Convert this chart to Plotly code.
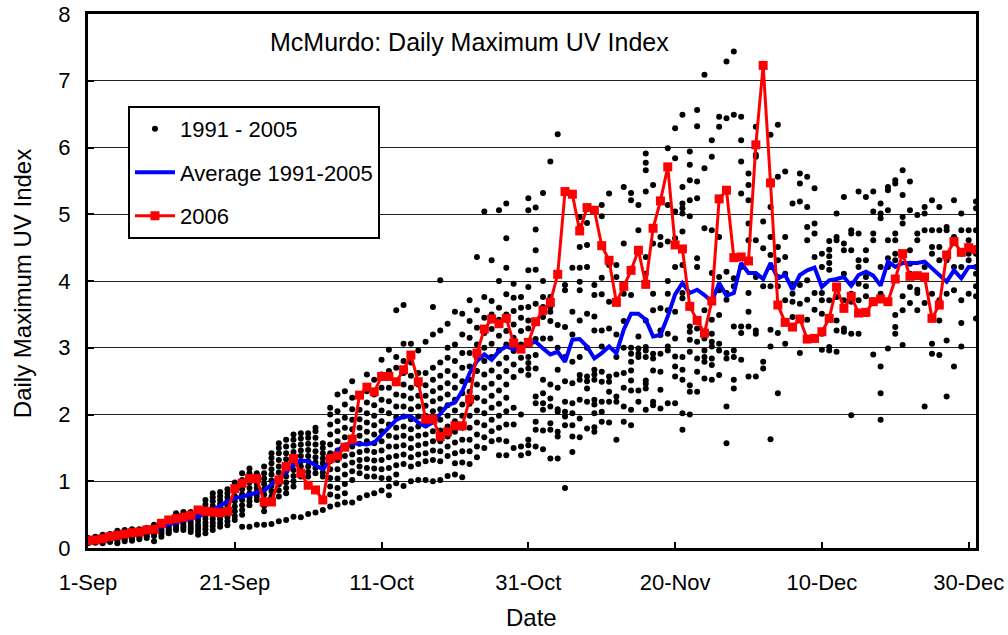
import pandas as pd
import plotly.graph_objects as go

# ---------------- data ----------------
start_date = "2006-09-01"
n_days = 122

uv_2006 = [0.11, 0.12, 0.14, 0.17, 0.19, 0.21, 0.23, 0.24, 0.27, 0.28,
           0.37, 0.42, 0.44, 0.46, 0.49, 0.57, 0.55, 0.54, 0.53, 0.55,
           0.89, 0.97, 1.04, 1.04, 0.69, 0.69, 1.02, 1.22, 1.34, 1.12,
           0.94, 0.87, 0.72, 1.34, 1.38, 1.51, 1.63, 2.29, 2.41, 2.34,
           2.57, 2.57, 2.49, 2.67, 2.89, 2.49, 1.93, 1.93, 1.67, 1.74,
           1.83, 1.83, 2.23, 2.92, 3.28, 3.43, 3.36, 3.44, 3.07, 2.98,
           3.08, 3.39, 3.56, 3.68, 4.10, 5.34, 5.30, 4.75, 5.10, 5.06,
           4.53, 4.31, 3.68, 3.92, 4.16, 4.46, 3.95, 4.79, 5.20, 5.71,
           4.54, 4.48, 3.62, 3.41, 3.22, 3.70, 5.23, 5.36, 4.35, 4.36,
           4.30, 6.04, 7.23, 5.47, 3.64, 3.38, 3.31, 3.43, 3.13, 3.14,
           3.24, 3.44, 3.91, 3.59, 3.77, 3.52, 3.53, 3.69, 3.73, 3.69,
           4.03, 4.41, 4.07, 4.08, 4.06, 3.44, 3.64, 4.39, 4.59, 4.43,
           4.50, 4.47]

uv_avg = [0.12, 0.13, 0.14, 0.16, 0.18, 0.20, 0.22, 0.24, 0.26, 0.28,
          0.32, 0.35, 0.38, 0.41, 0.44, 0.47, 0.52, 0.57, 0.63, 0.70,
          0.75, 0.77, 0.80, 0.82, 0.86, 0.95, 1.05, 1.15, 1.24, 1.31,
          1.30, 1.24, 1.18, 1.32, 1.46, 1.55, 1.57, 1.56, 1.55, 1.58,
          1.70, 1.82, 1.92, 1.97, 1.97, 1.88, 1.82, 1.88, 2.02, 2.14,
          2.18, 2.35, 2.62, 2.80, 2.90, 2.82, 2.95, 3.02, 2.98, 3.00,
          3.05, 3.09, 2.99, 2.90, 2.94, 2.79, 3.12, 3.13, 3.02, 2.84,
          2.92, 3.02, 2.92, 3.27, 3.51, 3.51, 3.42, 3.17, 3.19, 3.47,
          3.80, 3.97, 3.82, 3.87, 3.79, 3.69, 3.97, 3.78, 3.82, 4.27,
          4.12, 4.12, 4.03, 4.27, 4.04, 4.09, 3.87, 4.09, 4.16, 4.20,
          3.91, 4.01, 4.03, 4.06, 3.93, 4.09, 4.14, 4.08, 3.93, 4.29,
          4.21, 4.27, 4.27, 4.27, 4.29, 4.19, 4.10, 3.99, 4.16, 4.04,
          4.21, 4.21]

# 1991-2005 daily maxima, one list per day (Sep 1 ... Dec 31)
uv_hist = [
    [0.07, 0.09, 0.10, 0.12, 0.13, 0.14, 0.15],
    [0.08, 0.10, 0.12, 0.13, 0.15, 0.17],
    [0.07, 0.10, 0.12, 0.14, 0.16, 0.18, 0.20],
    [0.09, 0.12, 0.14, 0.16, 0.18, 0.21],
    [0.07, 0.11, 0.14, 0.17, 0.20, 0.23, 0.26],
    [0.10, 0.13, 0.16, 0.19, 0.22, 0.25, 0.27],
    [0.11, 0.14, 0.17, 0.20, 0.23, 0.26, 0.28],
    [0.13, 0.16, 0.19, 0.22, 0.25, 0.28],
    [0.15, 0.18, 0.21, 0.24, 0.27, 0.30],
    [0.10, 0.18, 0.22, 0.26, 0.30, 0.33, 0.35],
    [0.17, 0.21, 0.24, 0.27, 0.30, 0.34],
    [0.22, 0.25, 0.28, 0.32, 0.36, 0.39, 0.42],
    [0.27, 0.30, 0.34, 0.38, 0.42, 0.47, 0.52],
    [0.27, 0.31, 0.35, 0.39, 0.43, 0.48, 0.54],
    [0.24, 0.29, 0.33, 0.38, 0.43, 0.48, 0.54],
    [0.20, 0.25, 0.30, 0.35, 0.41, 0.46, 0.52, 0.57],
    [0.22, 0.28, 0.33, 0.38, 0.44, 0.50, 0.58, 0.65, 0.72],
    [0.27, 0.33, 0.38, 0.44, 0.50, 0.56, 0.63, 0.70, 0.76, 0.82],
    [0.32, 0.37, 0.43, 0.48, 0.54, 0.60, 0.66, 0.72, 0.78, 0.84],
    [0.34, 0.40, 0.46, 0.52, 0.58, 0.64, 0.70, 0.76, 0.82, 0.88],
    [0.42, 0.48, 0.55, 0.62, 0.70, 0.78, 0.86, 0.92, 0.98],
    [0.32, 0.50, 0.57, 0.64, 0.72, 0.80, 0.88, 0.95, 1.02, 1.12],
    [0.32, 0.64, 0.70, 0.76, 0.82, 0.90, 0.98, 1.06, 1.12, 1.19],
    [0.35, 0.72, 0.78, 0.84, 0.90, 0.96, 1.02, 1.07, 1.12],
    [0.35, 0.55, 0.63, 0.72, 0.80, 0.88, 0.96, 1.04, 1.12, 1.22],
    [0.36, 0.77, 0.85, 0.93, 1.01, 1.10, 1.18, 1.27, 1.35, 1.42],
    [0.40, 0.77, 0.86, 0.95, 1.04, 1.13, 1.22, 1.32, 1.42, 1.50, 1.57],
    [0.42, 0.82, 0.90, 0.98, 1.07, 1.15, 1.24, 1.33, 1.42, 1.52, 1.62],
    [0.47, 0.92, 1.00, 1.08, 1.17, 1.26, 1.35, 1.44, 1.53, 1.62, 1.70],
    [0.46, 1.07, 1.14, 1.22, 1.30, 1.38, 1.46, 1.55, 1.64, 1.72],
    [0.51, 1.07, 1.14, 1.22, 1.30, 1.38, 1.47, 1.56, 1.65, 1.72],
    [0.53, 1.12, 1.20, 1.28, 1.36, 1.45, 1.55, 1.65, 1.75, 1.80],
    [0.57, 1.07, 1.13, 1.20, 1.27, 1.34, 1.42, 1.50, 1.57],
    [0.62, 0.80, 0.92, 1.05, 1.18, 1.30, 1.42, 1.55, 1.70, 1.85, 2.00, 2.10],
    [0.65, 0.77, 0.90, 1.04, 1.18, 1.32, 1.46, 1.60, 1.75, 1.90, 2.05, 2.30],
    [0.68, 0.82, 0.96, 1.10, 1.24, 1.38, 1.52, 1.66, 1.80, 1.95, 2.15, 2.35],
    [0.68, 1.02, 1.15, 1.28, 1.40, 1.52, 1.65, 1.78, 1.92, 2.08, 2.25, 2.50],
    [0.75, 1.12, 1.22, 1.32, 1.44, 1.56, 1.68, 1.80, 1.93, 2.07],
    [0.79, 1.07, 1.20, 1.33, 1.46, 1.60, 1.74, 1.88, 2.02, 2.18, 2.35, 2.60],
    [0.82, 1.07, 1.19, 1.31, 1.44, 1.57, 1.70, 1.84, 1.98, 2.14, 2.30, 2.52],
    [0.86, 1.05, 1.18, 1.32, 1.46, 1.60, 1.75, 1.90, 2.06, 2.22, 2.40, 2.60, 2.82],
    [0.79, 0.92, 1.04, 1.20, 1.36, 1.52, 1.68, 1.85, 2.02, 2.20, 2.40, 2.65, 2.97],
    [0.97, 1.10, 1.24, 1.38, 1.52, 1.66, 1.80, 1.96, 2.12, 2.30, 2.50, 2.70, 2.86, 3.56],
    [0.93, 1.26, 1.40, 1.54, 1.68, 1.82, 1.97, 2.12, 2.28, 2.45, 2.62, 2.80, 3.06, 3.64],
    [1.00, 1.22, 1.36, 1.50, 1.64, 1.78, 1.93, 2.08, 2.24, 2.40, 2.58, 2.78, 3.06],
    [1.02, 1.26, 1.40, 1.54, 1.68, 1.82, 1.97, 2.12, 2.28, 2.45, 2.62, 2.96],
    [1.02, 1.30, 1.42, 1.56, 1.70, 1.84, 1.98, 2.13, 2.28, 2.44, 2.62, 3.09],
    [1.00, 1.32, 1.46, 1.60, 1.75, 1.90, 2.05, 2.20, 2.35, 2.52, 2.70, 3.20, 3.61],
    [1.02, 1.30, 1.45, 1.60, 1.76, 1.92, 2.08, 2.24, 2.40, 2.58, 2.78, 3.26, 4.01],
    [1.08, 1.38, 1.52, 1.67, 1.82, 1.98, 2.14, 2.30, 2.47, 2.65, 2.85, 3.00, 3.36],
    [1.10, 1.27, 1.42, 1.58, 1.74, 1.90, 2.06, 2.22, 2.40, 2.58, 2.80, 3.05, 3.54],
    [1.06, 1.28, 1.45, 1.62, 1.80, 1.98, 2.15, 2.32, 2.50, 2.70, 2.92, 3.20, 3.51],
    [1.26, 1.45, 1.62, 1.80, 1.98, 2.16, 2.34, 2.52, 2.72, 2.92, 3.15, 3.40, 3.71],
    [1.36, 1.52, 1.70, 1.88, 2.06, 2.25, 2.45, 2.65, 2.85, 3.05, 3.30, 3.56, 4.36],
    [1.50, 1.66, 1.84, 2.02, 2.20, 2.40, 2.60, 2.80, 3.00, 3.22, 3.45, 3.76, 5.04],
    [1.60, 1.75, 1.92, 2.10, 2.28, 2.46, 2.66, 2.86, 3.06, 3.28, 3.50, 3.70, 4.31],
    [1.39, 1.62, 1.80, 1.98, 2.16, 2.36, 2.56, 2.76, 2.96, 3.18, 3.42, 3.60, 4.00, 5.06],
    [1.39, 1.60, 1.85, 2.05, 2.25, 2.45, 2.65, 2.85, 3.05, 3.25, 3.50, 3.80, 4.20, 4.64, 5.16],
    [1.50, 1.85, 2.10, 2.56, 2.75, 2.95, 3.15, 3.35, 3.55, 3.75, 3.96],
    [1.39, 1.52, 2.00, 2.66, 2.85, 3.05, 3.25, 3.45, 3.60, 3.76],
    [1.42, 1.54, 1.62, 2.59, 2.69, 2.77, 2.86, 3.06, 3.29, 3.41, 3.61, 3.91, 4.16, 5.06, 5.24],
    [1.52, 1.77, 1.89, 2.17, 2.27, 2.69, 2.89, 3.13, 3.40, 3.66, 4.17, 4.46, 4.77, 5.10],
    [1.48, 1.76, 2.07, 2.17, 2.32, 2.52, 3.14, 3.46, 3.61, 3.76, 4.00, 5.32],
    [1.34, 1.77, 1.87, 2.12, 2.24, 2.45, 3.14, 3.40, 3.54, 3.61, 3.76, 5.79],
    [1.34, 1.67, 1.74, 2.04, 2.08, 2.40, 2.67, 3.00, 3.34, 6.20],
    [0.90, 1.84, 1.97, 2.04, 2.19, 2.50, 2.86, 3.31, 3.86, 3.94],
    [1.44, 1.67, 1.84, 2.02, 2.17, 2.47, 2.79, 3.20, 3.54, 4.20],
    [1.66, 1.94, 2.22, 2.52, 2.59, 2.86, 3.41, 3.86, 3.99, 4.20, 4.51, 4.82, 4.96],
    [1.79, 2.19, 2.39, 2.50, 2.57, 3.00, 3.51, 4.21, 4.54, 4.87],
    [1.74, 1.81, 2.02, 2.15, 2.22, 2.52, 2.60, 2.67, 3.26, 3.47, 3.79, 3.94],
    [1.89, 2.04, 2.19, 2.49, 2.64, 3.02, 3.26, 3.80, 4.05, 4.97, 5.14],
    [1.88, 2.19, 2.34, 2.49, 2.57, 3.29, 3.69, 4.24, 5.31],
    [1.62, 2.19, 2.27, 2.60, 2.86, 3.20, 3.69, 4.06, 4.24],
    [1.89, 2.12, 2.40, 2.62, 3.00, 3.40, 3.81, 3.91, 4.56, 5.41],
    [1.84, 2.07, 2.36, 2.51, 2.66, 2.79, 2.91, 3.00, 3.79, 5.21, 5.32],
    [2.19, 2.36, 2.86, 2.91, 2.99, 3.17, 4.76, 5.14],
    [2.07, 2.39, 2.46, 2.51, 2.86, 2.96, 3.01, 3.41, 4.11, 4.36, 5.34, 5.66, 5.77, 5.91],
    [2.14, 2.19, 2.66, 2.84, 2.91, 3.56, 3.81, 4.56, 5.44],
    [2.09, 2.37, 2.64, 2.91, 3.19, 3.26, 3.59, 4.54, 4.66, 5.21],
    [2.17, 2.96, 3.02, 3.21, 3.56, 3.81, 4.00, 4.59, 5.14, 5.99],
    [2.17, 2.57, 2.72, 2.87, 3.14, 3.54, 4.21, 4.64, 5.04, 5.84, 6.29],
    [1.77, 2.02, 2.52, 2.67, 2.86, 3.74, 3.82, 4.24, 4.74, 5.01, 5.09, 5.16, 5.41, 6.49],
    [2.00, 2.34, 2.44, 2.94, 3.12, 3.24, 3.32, 4.97, 5.21, 5.51, 5.74, 5.94],
    [2.34, 2.64, 2.84, 3.09, 3.29, 4.21, 4.34, 5.24, 5.49, 6.32, 6.56],
    [2.54, 2.79, 2.86, 2.96, 3.14, 3.56, 4.79, 5.69, 7.09],
    [2.52, 2.74, 2.84, 3.02, 3.09, 3.21, 3.42, 4.12, 4.76, 5.86, 6.11],
    [2.59, 2.96, 3.06, 3.49, 3.86, 4.06, 4.66, 6.31, 6.46],
    [1.57, 2.12, 2.84, 2.92, 3.72, 3.82, 4.14, 6.44, 7.29],
    [2.39, 2.52, 2.86, 2.96, 3.32, 3.92, 4.04, 6.49, 7.44],
    [2.82, 3.22, 3.32, 4.21, 5.31, 5.79, 6.11, 6.46],
    [2.57, 3.32, 3.54, 3.82, 4.61, 4.86, 5.21, 5.44, 5.61],
    [2.57, 3.21, 3.26, 4.06, 4.61, 5.86, 5.89, 6.31],
    [2.69, 2.79, 3.92, 4.49, 4.89],
    [1.63, 3.02, 3.27, 3.92, 4.21, 4.39, 4.66, 5.11, 6.19],
    [2.32, 3.22, 3.92, 4.06, 4.31, 4.51, 5.56, 6.34],
    [3.06, 3.71, 4.11, 4.36, 4.66, 5.64],
    [3.46, 3.69, 3.81, 3.94, 5.16],
    [2.92, 3.66, 3.94, 5.19, 5.46, 5.61],
    [3.42, 3.72, 4.01, 4.61, 4.81, 5.11, 5.56],
    [3.57, 3.82, 4.36, 4.71, 4.86, 5.39],
    [2.97, 3.21, 3.51, 3.71, 3.82, 4.21, 4.41],
    [2.96, 3.01, 3.71, 4.17, 4.27, 4.37, 4.47, 4.60],
    [2.94, 3.26, 3.41, 3.76, 4.61, 4.66, 5.01],
    [3.24, 3.29, 3.71, 4.11, 4.46, 4.56, 5.26],
    [1.99, 3.21, 3.69, 3.81, 3.96, 4.46, 4.71, 4.76],
    [3.21, 3.71, 3.96, 4.21, 4.31, 4.71, 5.34],
    [3.51, 3.77, 3.92, 4.06, 4.31, 4.46, 5.26],
    [2.90, 3.71, 4.61, 4.71, 5.04, 5.34],
    [1.92, 2.32, 2.72, 3.81, 4.21, 4.94, 5.01, 5.16],
    [2.99, 4.21, 4.34, 4.61, 5.06, 5.36, 5.41],
    [3.21, 3.31, 3.49, 4.31, 4.41, 4.61, 4.71, 5.46, 5.51],
    [3.04, 3.56, 3.77, 4.86, 4.96, 5.29, 5.66],
    [3.67, 3.91, 4.11, 4.26, 4.46, 5.06, 5.49],
    [3.56, 3.82, 3.87, 4.61, 4.71, 4.99],
    [2.12, 3.67, 4.21, 4.76, 5.01, 5.11],
    [2.91, 3.06, 3.81, 4.41, 4.51, 4.76, 5.21],
    [2.89, 3.41, 3.71, 4.31, 4.51, 4.76, 5.11],
    [2.27, 3.11, 3.81, 4.31, 4.76, 4.81],
    [2.72, 3.86, 4.21, 4.66, 5.21],
    [3.02, 3.37, 3.71, 4.21, 4.41, 4.76, 5.01],
    [3.81, 4.31, 4.41, 4.61, 4.76],
    [3.44, 3.77, 3.92, 4.11, 4.21, 4.41, 4.76, 5.09, 5.19],
]

tick_dates = ["2006-09-01", "2006-09-21", "2006-10-11", "2006-10-31",
              "2006-11-20", "2006-12-10", "2006-12-30"]
tick_labels = ["1-Sep", "21-Sep", "11-Oct", "31-Oct", "20-Nov", "10-Dec", "30-Dec"]

# ---------------- build ----------------
dates = pd.date_range(start_date, periods=n_days, freq="D")
hist_x = [dates[i] for i, vals in enumerate(uv_hist) for _ in vals]
hist_y = [v for vals in uv_hist for v in vals]

FONT = "Liberation Sans, Arial, sans-serif"

fig = go.Figure()
fig.add_trace(go.Scatter(
    x=hist_x, y=hist_y, mode="markers", name="1991 - 2005",
    legendgroup="a",
    marker=dict(color="black", size=6, symbol="circle", line=dict(width=0)),
))
fig.add_trace(go.Scatter(
    x=dates, y=uv_avg, mode="lines", name="Average 1991-2005",
    legendgroup="b",
    line=dict(color="#0000FF", width=4),
))
fig.add_trace(go.Scatter(
    x=dates, y=uv_2006, mode="lines+markers", name="2006",
    legendgroup="c",
    line=dict(color="#FF0000", width=3),
    marker=dict(color="#FF0000", size=9, symbol="square"),
))

fig.update_layout(
    width=1008, height=635,
    margin=dict(l=88, r=32, t=14, b=87, autoexpand=False),
    paper_bgcolor="white", plot_bgcolor="white",
    font=dict(family=FONT, size=22, color="black"),
    showlegend=True,
    legend=dict(
        x=0.045, y=0.828, xanchor="left", yanchor="top",
        bgcolor="white", bordercolor="black", borderwidth=2,
        font=dict(family=FONT, size=22, color="black"),
        itemwidth=40, tracegroupgap=12, traceorder="grouped",
    ),
    xaxis=dict(
        type="date", automargin=False,
        range=["2006-09-01", "2006-12-31"],
        tickmode="array", tickvals=tick_dates, ticktext=tick_labels,
        ticks="inside", ticklen=6, tickwidth=2, tickcolor="black",
        showline=True, linewidth=3, linecolor="black", mirror=True,
        showgrid=False, zeroline=False,
        tickfont=dict(family=FONT, size=22, color="black"),
        ticklabelstandoff=13, ticklabeloverflow="allow",
    ),
    yaxis=dict(
        range=[0, 8], dtick=1, tick0=0, automargin=False,
        ticks="inside", ticklen=6, tickwidth=2, tickcolor="black",
        showline=True, linewidth=3, linecolor="black", mirror=True,
        showgrid=True, gridcolor="#222222", gridwidth=1,
        zeroline=False,
        tickfont=dict(family=FONT, size=22, color="black"),
        ticklabelstandoff=10, ticklabeloverflow="allow",
    ),
    annotations=[
        dict(text="McMurdo: Daily Maximum UV Index", xref="paper", yref="paper",
             x=0.43, y=0.948, xanchor="center", yanchor="middle", showarrow=False,
             font=dict(family=FONT, size=25, color="black")),
        dict(text="Daily Maximum UV Index", xref="paper", yref="paper",
             x=0, y=0.494, xshift=-66, xanchor="center", yanchor="middle",
             textangle=-90, showarrow=False,
             font=dict(family=FONT, size=24, color="black")),
        dict(text="Date", xref="paper", yref="paper",
             x=0.499, y=0, yshift=-69, xanchor="center", yanchor="middle",
             showarrow=False,
             font=dict(family=FONT, size=24, color="black")),
    ],
)

# remove the default 8px page margin so the 1008x635 figure fills the window
fig.write_html("out.html",
               config={"displayModeBar": False},
               post_script="document.body.style.margin='0px';"
                           "document.body.style.overflow='hidden';")
